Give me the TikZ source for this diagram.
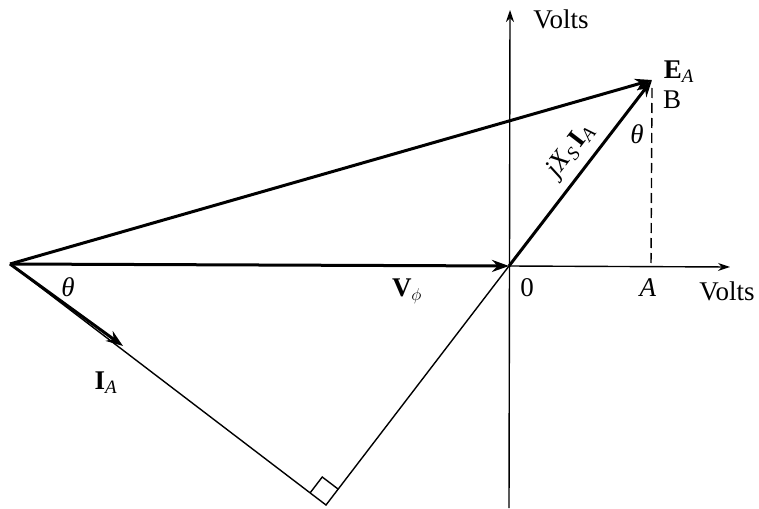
\documentclass[tikz,border=0pt]{standalone}
\usepackage{fontspec}
\setmainfont{Liberation Serif}
\usetikzlibrary{arrows.meta,calc}
\begin{document}
\begin{tikzpicture}[x=1pt,y=-1pt,
  vec/.style={line width=3pt,-{Stealth[length=17pt,width=12pt]}},
  thinline/.style={line width=1.4pt},
  axis/.style={line width=1.4pt,-{Stealth[length=12pt,width=8pt]}},
  lbl/.style={font=\fontsize{27}{31}\selectfont, inner sep=0pt}]
\useasboundingbox (0,0) rectangle (759,508);
% points
\coordinate (P) at (10,264);
\coordinate (O) at (509,266);
\coordinate (E) at (652,80);
\coordinate (C) at (326,505);
\coordinate (F) at (651,266);
\coordinate (IAt) at (123,346);
\coordinate (Xend) at (730,267);
\coordinate (Ytop) at (510,10);
\coordinate (Ybot) at (509,508);
% axes
\draw[axis] (Ybot) -- (Ytop);
\draw[axis] (O) -- (Xend);
% dashed projection
\draw[thinline, dash pattern=on 10pt off 5pt] (E) ++(0,8) -- (F);
% triangle sides
\draw[thinline] (P) -- (C) -- (O);
% right-angle mark
\coordinate (C1) at ($(C)!20pt!(P)$);
\coordinate (C2) at ($(C)!20pt!(O)$);
\coordinate (C3) at ($(C1)+(C2)-(C)$);
\draw[thinline] (C1) -- (C3) -- (C2);
% vectors
\draw[vec] (P) -- (O);
\draw[vec] (P) -- (E);
\draw[vec] (P) -- (IAt);
\draw[vec] (O) -- node[pos=0.55, sloped, above=8pt, lbl]{\textit{jX}\textsubscript{\textit{S}}\kern3pt\textbf{I}\textsubscript{\textit{A}}} (E);
% labels
\node[lbl] (lvy) at (561,19) {Volts};
\node[lbl] (lvx) at (727,291) {Volts};
\node[lbl] (lea) at (679,72) {\textbf{E}\textsubscript{\textit{A}}};
\node[lbl] (lb) at (672,100) {B};
\node[lbl] (lth1) at (637,134) {\textit{θ}};
\node[lbl] (lth2) at (68,287) {\textit{θ}};
\node[lbl] (l0) at (527,288) {0};
\node[lbl] (la) at (648,288) {\textit{A}};
\node[lbl] (lvp) at (407,291) {\textbf{V}$_{\phi}$};
\node[lbl] (lia) at (106,383) {\textbf{I}\textsubscript{\textit{A}}};
\end{tikzpicture}
\end{document}
